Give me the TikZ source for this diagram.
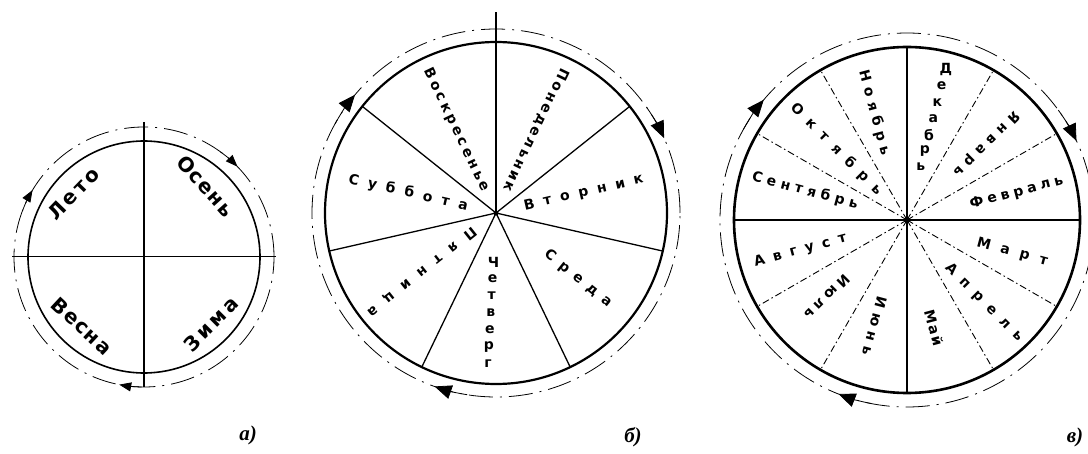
\documentclass[tikz,border=0pt]{standalone}
\usepackage{fontspec}
\setmainfont{Liberation Serif}
\newfontfamily\labelfont{DejaVu Sans}
\usetikzlibrary{arrows.meta}

% spread the letters of a word over a given width (in pt)
\newcommand{\spread}[2]{\makebox[#1pt][s]{\expandafter\spreadloop#2\relax}}
\def\spreadloop#1{#1\futurelet\spreadnext\spreadcheck}
\def\spreadcheck{\ifx\spreadnext\relax\expandafter\spreadstop\else\hfil\expandafter\spreadloop\fi}
\def\spreadstop#1{}

\begin{document}
\begin{tikzpicture}[x=1pt, y=1pt,
    orbit/.style={line width=0.8pt, dash pattern=on 24pt off 7pt on 2pt off 7pt},
    turn/.style={line width=0.8pt, -{Triangle[length=17pt, width=14pt]}},
    smallturn/.style={line width=0.8pt, -{Triangle[length=12pt, width=9pt]}},
    spoke/.style={line width=1.3pt},
    monthline/.style={line width=0.9pt, dash pattern=on 7pt off 3pt on 1.5pt off 3pt},
    season/.style={font=\labelfont\bfseries\fontsize{20}{23}\selectfont, inner sep=0pt},
    wheel/.style={font=\labelfont\bfseries\fontsize{14}{16}\selectfont, inner sep=0pt},
    caption/.style={font=\itshape\bfseries\fontsize{21}{24}\selectfont}]
\useasboundingbox (0,0) rectangle (1088,453);

% centres
\coordinate (ca) at (144,196);
\coordinate (cb) at (496,240);
\coordinate (cv) at (907,233);

% a) seasons
\draw[line width=1.6pt] (ca) circle[radius=116];
\draw[line width=1.8pt] ([yshift=135]ca) -- ([yshift=-130]ca);
\draw[line width=1pt] ([xshift=-132]ca) -- ([xshift=132]ca);
\draw[orbit] (ca) circle[radius=130];
\draw[smallturn] ([shift={(159:130)}]ca) arc[start angle=159, end angle=149, radius=130];
\draw[smallturn] ([shift={(54:130)}]ca) arc[start angle=54, end angle=44, radius=130];
\draw[smallturn] ([shift={(269:130)}]ca) arc[start angle=269, end angle=259, radius=130];

\node[season, rotate=46] (leto) at ([shift={(138:95)}]ca) {\spread{64}{Лето}};
\node[season, rotate=-48] (osen) at ([shift={(49:94)}]ca) {\spread{74}{Осень}};
\node[season, rotate=-43] (vesna) at ([shift={(228:93)}]ca) {\spread{74}{Весна}};
\node[season, rotate=45] (zima) at ([shift={(-45:95)}]ca) {\spread{68}{Зима}};

% b) days of the week
\draw[line width=2.2pt] (cb) circle[radius=171];
\draw[spoke] (cb) -- ([yshift=201]cb);
\foreach \k in {1,...,6}
    \draw[spoke] (cb) -- ([shift={({90-\k*51.43}:171)}]cb);
\fill (cb) circle[radius=2.5];
\draw[orbit] (cb) circle[radius=184];
\draw[turn] ([shift={(151:184)}]cb) arc[start angle=151, end angle=140, radius=184];
\draw[turn] ([shift={(35:184)}]cb) arc[start angle=35, end angle=24, radius=184];
\draw[turn] ([shift={(261:184)}]cb) arc[start angle=261, end angle=250.5, radius=184];

\node[wheel, rotate=-64.3] (sun) at ([shift={(115.7:92)}]cb) {\spread{135}{Воскресенье}};
\node[wheel, rotate=-115.7] (mon) at ([shift={(64.3:92)}]cb) {\spread{135}{Понедельник}};
\node[wheel, rotate=12.9] (tue) at ([shift={(12.9:90)}]cb) {\spread{122}{Вторник}};
\node[wheel, rotate=-38.6] (wed) at ([shift={(-38.6:105)}]cb) {\spread{82}{Среда}};
\foreach \ch [count=\i from 0] in {Ч,е,т,в,е,р,г}
    \node[wheel] (thu\i) at ([shift={(-93:{49+\i*17})}]cb) {\ch};
\node[wheel, rotate=-141.4] (fri) at ([shift={(-141.4:95)}]cb) {\spread{135}{Пятница}};
\node[wheel, rotate=-12.9] (sat) at ([shift={(167.1:90)}]cb) {\spread{122}{Суббота}};

% c) months
\draw[line width=2.6pt] (cv) circle[radius=173];
\draw[line width=2.6pt] ([xshift=-173]cv) -- ([xshift=173]cv);
\draw[line width=2.6pt] ([yshift=-173]cv) -- ([yshift=173]cv);
\foreach \a in {30,60,120,150,210,240,300,330}
    \draw[monthline] (cv) -- ([shift={(\a:173)}]cv);
\fill (cv) circle[radius=3];
\draw[orbit] (cv) circle[radius=187];
\draw[turn] ([shift={(151:187)}]cv) arc[start angle=151, end angle=140, radius=187];
\draw[turn] ([shift={(36:187)}]cv) arc[start angle=36, end angle=25, radius=187];
\draw[turn] ([shift={(259:187)}]cv) arc[start angle=259, end angle=248.5, radius=187];

\foreach \ch [count=\i from 0] in {Д,е,к,а,б,р,ь}
    \node[wheel] (dec\i) at ([shift={(75.5:{155-\i*16.7})}]cv) {\ch};
\foreach \name/\ang/\rad/\rot/\len [count=\m] in {
    Ноябрь/107/112/-75/87, Январь/44/110/-135/87, Февраль/14/113/15/96,
    Март/-17/110/-15/73, Апрель/-47/113/-45/104, Май/-76/111/-75/37,
    Июнь/-107/111/-105/60, Июль/-136/111/-135/57, Август/196/111/15/95,
    Сентябрь/164/106/-15/109, Октябрь/135/100/-45/123}
    \node[wheel, rotate=\rot] (month\m) at ([shift={(\ang:\rad)}]cv) {\spread{\len}{\name}};

% captions
\node[caption] (capa) at (248,18) {а)};
\node[caption] (capb) at (633,16) {б)};
\node[caption] (capv) at (1075,16) {в)};
\end{tikzpicture}
\end{document}
